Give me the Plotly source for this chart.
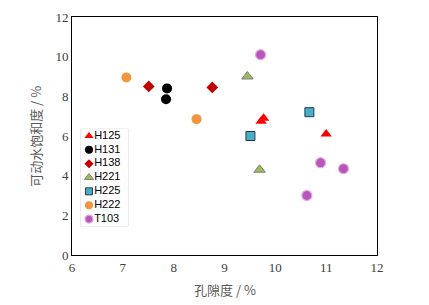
import plotly.graph_objects as go

series_names = ["H125", "H131", "H138", "H221", "H225", "H222", "T103"]
porosity = {
    "H125": [9.72, 9.77, 11.0],
    "H131": [7.87, 7.85],
    "H138": [7.51, 8.76],
    "H221": [9.45, 9.69],
    "H225": [10.67, 9.51],
    "H222": [7.07, 8.45],
    "T103": [9.71, 10.89, 11.34, 10.62],
}
saturation = {
    "H125": [6.75, 6.9, 6.1],
    "H131": [8.4, 7.85],
    "H138": [8.5, 8.45],
    "H221": [9.0, 4.3],
    "H225": [7.2, 6.0],
    "H222": [8.95, 6.85],
    "T103": [10.1, 4.65, 4.35, 3.0],
}
x_ticks = [6, 7, 8, 9, 10, 11, 12]
y_ticks = [0, 2, 4, 6, 8, 10, 12]

styles = {
    "H125": dict(symbol="triangle-up", color="#ff0000", size=10, line=dict(width=0)),
    "H131": dict(symbol="circle", color="#000000", size=10, line=dict(width=0)),
    "H138": dict(symbol="diamond", color="#c00000", size=9, line=dict(width=0)),
    "H221": dict(symbol="triangle-up", color="#9bbb59", size=10, line=dict(width=1, color="#7f7f7f")),
    "H225": dict(symbol="square", color="#4bacc6", size=9, line=dict(width=1, color="#1f3b5c")),
    "H222": dict(symbol="circle", color="#f0963f", size=10, line=dict(width=0)),
    "T103": dict(symbol="circle", color="#b656b8", size=10, line=dict(width=1.2, color="#e2a8e2")),
}

fig = go.Figure()
for name in series_names:
    s = styles[name]
    fig.add_trace(go.Scatter(
        x=porosity[name], y=saturation[name], mode="markers", name=name, showlegend=False,
        marker=dict(symbol=s["symbol"], color=s["color"], size=s["size"], line=s["line"]),
    ))

# custom legend drawn on a small overlay axis
for i, name in enumerate(series_names):
    s = styles[name]
    fig.add_trace(go.Scatter(
        x=[0.17], y=[i], mode="markers", xaxis="x2", yaxis="y2", showlegend=False, hoverinfo="skip",
        marker=dict(symbol=s["symbol"], color=s["color"], size=s["size"] - 2, line=s["line"]),
    ))
fig.add_trace(go.Scatter(
    x=[0.28] * len(series_names), y=list(range(len(series_names))), mode="text",
    text=series_names, textposition="middle right", xaxis="x2", yaxis="y2",
    showlegend=False, hoverinfo="skip",
    textfont=dict(family="Liberation Sans", size=11, color="#000000"),
))

axis_common = dict(
    showgrid=False, zeroline=False, showline=True, linecolor="#000000", linewidth=1,
    mirror=True, ticks="", automargin=False,
    tickfont=dict(family="Liberation Serif", size=13, color="#404040"),
)
# the page body adds an 8px offset, so the figure is 8px smaller and margins shifted
fig.update_layout(
    xaxis=dict(range=[6, 12], tickvals=x_ticks, ticktext=[str(v) for v in x_ticks], **axis_common),
    yaxis=dict(range=[0, 12], tickvals=y_ticks, ticktext=[str(v) for v in y_ticks], **axis_common),
    xaxis2=dict(domain=[0.0295, 0.1836], range=[0, 1], anchor="y2", visible=False, fixedrange=True),
    yaxis2=dict(domain=[0.122, 0.529], range=[6.5, -0.5], anchor="x2", visible=False, fixedrange=True),
    width=421, height=297,
    margin=dict(l=64, r=52, t=9, b=50),
    paper_bgcolor="white", plot_bgcolor="white",
    showlegend=False,
    shapes=[dict(type="rect", xref="paper", yref="paper", x0=0.0295, x1=0.1836, y0=0.122, y1=0.529,
                 line=dict(color="#d9d9d9", width=1), fillcolor="white", layer="below")],
    annotations=[
        dict(text="孔隙度 / %", xref="paper", yref="paper", x=0.5, y=-0.147, yanchor="middle",
             showarrow=False, font=dict(family="Noto Sans CJK SC", size=13, color="#595959")),
        dict(text="可动水饱和度 / %", xref="paper", yref="paper", x=-0.122, y=0.5, textangle=-90,
             xanchor="center", yanchor="middle",
             showarrow=False, font=dict(family="Noto Sans CJK SC", size=13, color="#595959")),
    ],
)
fig.write_html("out.html")
